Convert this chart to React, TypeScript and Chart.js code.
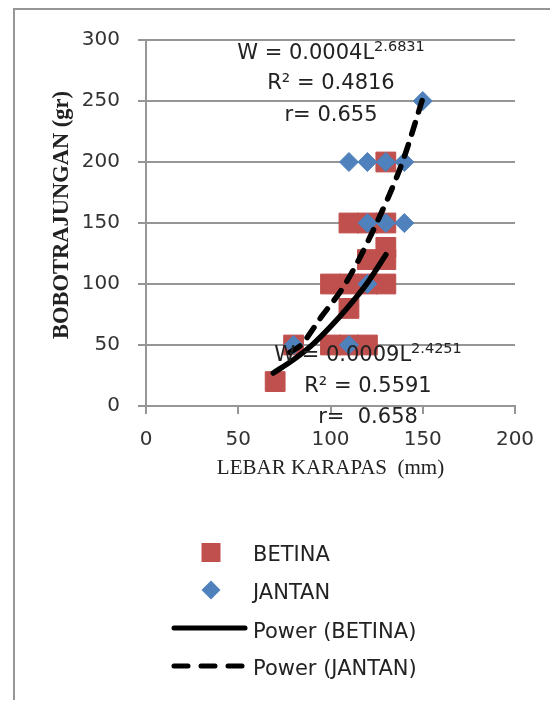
import React, { useEffect, useRef } from "react";
import { Chart, registerables } from "chart.js";

Chart.register(...registerables);

// ---- data ----
const betinaX = [70, 80, 100, 110, 120, 110, 100, 110, 120, 130, 120, 130, 130, 110, 120, 130, 130];
const betinaY = [20, 50, 50, 50, 50, 80, 100, 100, 100, 100, 120, 120, 130, 150, 150, 150, 200];

const jantanX = [80, 110, 120, 120, 130, 140, 110, 120, 130, 140, 150];
const jantanY = [50, 50, 100, 150, 150, 150, 200, 200, 200, 200, 250];

// fitted power trend lines
const powerBetinaX = [69, 80, 90, 100, 110, 120, 130];
const powerBetinaY = [27, 38, 50, 65, 82, 101, 124];

const powerJantanX = [78, 84, 95, 108, 125, 139, 150];
const powerJantanY = [44, 50, 73, 100, 150, 200, 252];

const xTickValues = [0, 50, 100, 150, 200];
const yTickValues = [0, 50, 100, 150, 200, 250, 300];

const seriesLabels = ["BETINA", "JANTAN", "Power (BETINA)", "Power (JANTAN)"];
const xTitle = "LEBAR KARAPAS  (mm)";
const yTitle = "BOBOTRAJUNGAN (gr)";

const jantanEq = { main: "W = 0.0004L", sup: "2.6831", r2: "R² = 0.4816", r: "r= 0.655" };
const betinaEq = { main: "W = 0.0009L", sup: "2.4251", r2: "R² = 0.5591", r: "r=  0.658" };

const RED = "#C0504D";
const BLUE = "#4F81BD";
const GRID = "#969696";
const TEXT = "#222222";
const SANS = '"DejaVu Sans"';
const SERIF = '"Liberation Serif"';

const pts = (xs: number[], ys: number[]) => xs.map((x, i) => ({ x, y: ys[i] }));

function drawEquation(ctx: CanvasRenderingContext2D, cx: number, base: number, eq: typeof jantanEq) {
  const mainFont = `21px ${SANS}`;
  const supFont = `14.5px ${SANS}`;
  ctx.save();
  ctx.fillStyle = TEXT;
  ctx.textBaseline = "alphabetic";
  ctx.textAlign = "left";
  ctx.font = mainFont;
  const w1 = ctx.measureText(eq.main).width;
  ctx.font = supFont;
  const w2 = ctx.measureText(eq.sup).width;
  const start = cx - (w1 + w2) / 2;
  ctx.font = mainFont;
  ctx.fillText(eq.main, start, base);
  ctx.font = supFont;
  ctx.fillText(eq.sup, start + w1, base - 8);
  ctx.font = mainFont;
  ctx.textAlign = "center";
  ctx.fillText(eq.r2, cx, base + 30.5);
  ctx.fillText(eq.r, cx, base + 62);
  ctx.restore();
}

const overlayPlugin = {
  id: "overlay",
  afterDatasetsDraw(chart: any) {
    const ctx: CanvasRenderingContext2D = chart.ctx;
    const a = chart.chartArea;
    // equation labels, positioned relative to the plot area
    drawEquation(ctx, a.left + 185, a.top + 18.5, jantanEq);
    drawEquation(ctx, a.left + 222, a.top + 321, betinaEq);
  },
  afterDraw(chart: any) {
    const ctx: CanvasRenderingContext2D = chart.ctx;
    const a = chart.chartArea;
    const ds = chart.data.datasets;
    ctx.save();
    // y axis title (rotated)
    ctx.translate(47, (a.top + a.bottom) / 2 - 8);
    ctx.rotate(-Math.PI / 2);
    ctx.fillStyle = TEXT;
    ctx.font = `bold 22.5px ${SERIF}`;
    ctx.textAlign = "center";
    ctx.textBaseline = "middle";
    ctx.fillText(yTitle, 0, 0);
    ctx.restore();

    const mx = 196;
    const lx0 = 157;
    const lx1 = 232;
    const tx = 238;
    const rows = [550.7, 589, 628, 665];
    ctx.save();
    // square
    ctx.fillStyle = ds[0].backgroundColor;
    ctx.fillRect(mx - 9.5, rows[0] - 17.7, 19, 19);
    // diamond
    ctx.fillStyle = ds[1].backgroundColor;
    ctx.beginPath();
    const dy = rows[1] - 9;
    ctx.moveTo(mx, dy - 9.5);
    ctx.lineTo(mx + 9.5, dy);
    ctx.lineTo(mx, dy + 9.5);
    ctx.lineTo(mx - 9.5, dy);
    ctx.closePath();
    ctx.fill();
    // solid line
    ctx.strokeStyle = ds[2].borderColor;
    ctx.lineWidth = 5;
    ctx.lineCap = "round";
    ctx.beginPath();
    ctx.moveTo(lx0 + 2, rows[2] - 10);
    ctx.lineTo(lx1 - 2, rows[2] - 10);
    ctx.stroke();
    // dashed line
    ctx.setLineDash([14, 13]);
    ctx.beginPath();
    ctx.moveTo(lx0 + 2, rows[3] - 9);
    ctx.lineTo(lx1 - 2, rows[3] - 9);
    ctx.stroke();
    ctx.setLineDash([]);
    // texts
    ctx.fillStyle = TEXT;
    ctx.font = `21px ${SANS}`;
    ctx.textAlign = "left";
    ctx.textBaseline = "alphabetic";
    seriesLabels.forEach((t, i) => ctx.fillText(t, tx, rows[i]));
    ctx.restore();
  },
};

export default function App() {
  const ref = useRef<HTMLCanvasElement>(null);

  useEffect(() => {
    const prevOverflow = document.body.style.overflow;
    document.body.style.overflow = "hidden";
    const canvas = ref.current;
    if (!canvas) return;
    const chart = new Chart(canvas, {
      type: "scatter",
      data: {
        datasets: [
          {
            label: seriesLabels[0],
            data: pts(betinaX, betinaY),
            pointStyle: "rect",
            pointRadius: 14,
            pointHoverRadius: 14,
            backgroundColor: RED,
            borderColor: RED,
            borderWidth: 1,
            order: 4,
          },
          {
            label: seriesLabels[1],
            data: pts(jantanX, jantanY),
            pointStyle: "rectRot",
            pointRadius: 9.5,
            pointHoverRadius: 9.5,
            backgroundColor: BLUE,
            borderColor: BLUE,
            borderWidth: 1,
            order: 3,
          },
          {
            type: "line",
            label: seriesLabels[2],
            data: pts(powerBetinaX, powerBetinaY),
            borderColor: "#000000",
            backgroundColor: "#000000",
            borderWidth: 5.5,
            borderCapStyle: "round",
            pointRadius: 0,
            cubicInterpolationMode: "monotone",
            fill: false,
            order: 2,
          },
          {
            type: "line",
            label: seriesLabels[3],
            data: pts(powerJantanX, powerJantanY),
            borderColor: "#000000",
            backgroundColor: "#000000",
            borderWidth: 5.5,
            borderDash: [12, 11],
            borderCapStyle: "round",
            pointRadius: 0,
            cubicInterpolationMode: "monotone",
            fill: false,
            order: 1,
          },
        ],
      } as any,
      options: {
        responsive: false,
        animation: false,
        events: [],
        layout: { padding: { top: 26, left: 0, right: 43, bottom: 215 } },
        plugins: {
          legend: { display: false },
          tooltip: { enabled: false },
        },
        scales: {
          x: {
            type: "linear",
            min: 0,
            max: 200,
            afterBuildTicks: (s: any) => {
              s.ticks = xTickValues.map((v) => ({ value: v }));
            },
            afterFit: (s: any) => {
              s.height = 79;
            },
            grid: {
              drawOnChartArea: false,
              drawTicks: true,
              tickLength: 8,
              color: GRID,
              lineWidth: 2,
            },
            border: { display: true, color: GRID, width: 2 },
            ticks: {
              padding: 14,
              color: "#333333",
              font: { family: "DejaVu Sans", size: 20 },
              maxRotation: 0,
            },
            title: {
              display: true,
              text: xTitle,
              color: TEXT,
              font: { family: "Liberation Serif", size: 21 },
              padding: { top: 0, bottom: 4 },
            },
          },
          y: {
            type: "linear",
            min: 0,
            max: 300,
            afterBuildTicks: (s: any) => {
              s.ticks = yTickValues.map((v) => ({ value: v }));
            },
            afterFit: (s: any) => {
              s.width = 131;
            },
            grid: {
              drawOnChartArea: true,
              drawTicks: true,
              tickLength: 8,
              color: GRID,
              lineWidth: 2,
            },
            border: { display: true, color: GRID, width: 2 },
            ticks: {
              padding: 18,
              color: "#333333",
              font: { family: "DejaVu Sans", size: 20 },
            },
            title: { display: false },
          },
        },
      } as any,
      plugins: [overlayPlugin],
    });
    return () => {
      chart.destroy();
      document.body.style.overflow = prevOverflow;
    };
  }, []);

  return (
    <div
      style={{
        marginLeft: 5,
        width: 543,
        height: 690,
        borderLeft: `2px solid ${GRID}`,
        borderTop: `2px solid ${GRID}`,
      }}
    >
      <canvas ref={ref} width={543} height={690} style={{ display: "block" }} />
    </div>
  );
}
